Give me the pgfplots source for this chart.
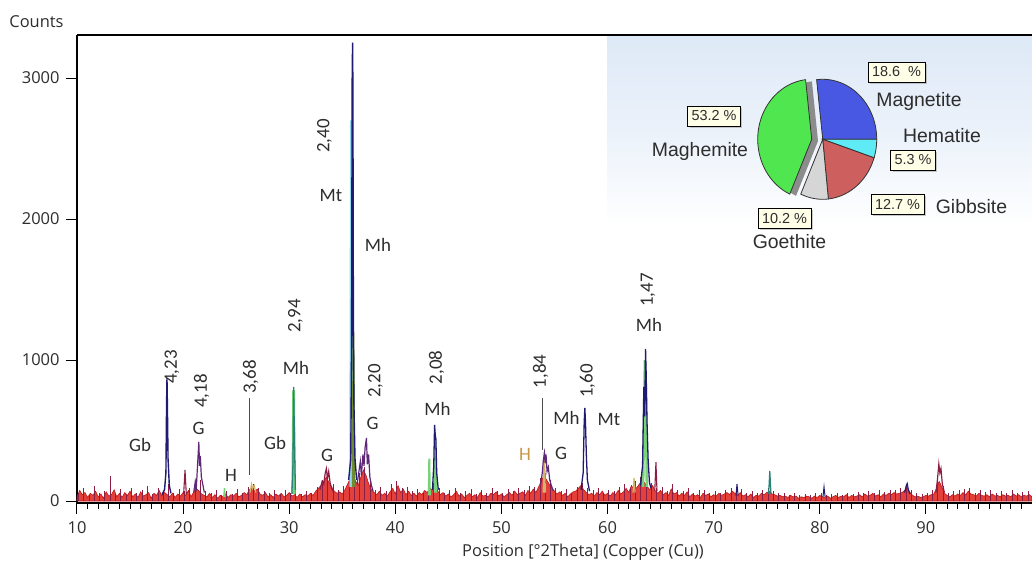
\documentclass[border=0pt]{standalone}
\usepackage{fontspec}
\setmainfont{Open Sans}
\newfontfamily\annot{Carlito}
\newfontfamily\pief{Liberation Sans}
\usepackage{pgfplots}
\pgfplotsset{compat=1.18}
\usetikzlibrary{shadows}
\definecolor{navy}{RGB}{32,26,112}
\definecolor{noisered}{RGB}{222,30,26}
\definecolor{maroon}{RGB}{140,30,70}
\definecolor{purp}{RGB}{95,40,120}
\definecolor{tealc}{RGB}{40,130,120}
\definecolor{lgreen}{RGB}{120,210,120}
\definecolor{lblue}{RGB}{150,215,240}
\definecolor{olive}{RGB}{110,140,50}
\definecolor{tanc}{RGB}{210,180,110}
\definecolor{txt}{RGB}{45,45,45}
\definecolor{pblue}{RGB}{72,88,226}
\definecolor{pcyan}{RGB}{95,235,245}
\definecolor{pred}{RGB}{205,95,95}
\definecolor{pgray}{RGB}{214,214,214}
\definecolor{pgreen}{RGB}{80,230,80}
\definecolor{boxfill}{RGB}{255,255,232}
\definecolor{bgblue}{RGB}{222,233,247}
\definecolor{orangeh}{RGB}{200,150,70}
\newcommand\pp[2]{({(#1-77)*1bp},{(503-#2)*1bp})}
\begin{document}
\begin{tikzpicture}
\useasboundingbox (-77bp,-61bp) rectangle (955bp,503bp);
% ---------- pie inset (pixel coordinates) ----------
\begin{axis}[at={(0,0)}, anchor=south west, scale only axis, width=955bp, height=468bp,
  xmin=77, xmax=1032, ymin=35, ymax=503, y dir=reverse, hide axis, clip=false]
\fill[top color=bgblue, bottom color=white, middle color=bgblue!60!white] (axis cs:607,37) rectangle (axis cs:1032,228);
% shadow behind green/gray
\addplot[fill=black!45, draw=none, domain=96.5:246, samples=40, variable=\t]
  ({818+54*cos(\t)}, {141-60*sin(\t)}) -- (axis cs:818,141) -- cycle;
% Magnetite 18.6 %
\addplot[fill=pblue, draw=black!80, line width=0.8bp, domain=0:96.5, samples=40, variable=\t]
  ({822.7+54*cos(\t)}, {139.3-60*sin(\t)}) -- (axis cs:822.7,139.3) -- cycle;
% Hematite 5.3 %
\addplot[fill=pcyan, draw=black!80, line width=0.8bp, domain=-18:0, samples=10, variable=\t]
  ({822.7+54*cos(\t)}, {139.3-60*sin(\t)}) -- (axis cs:822.7,139.3) -- cycle;
% Gibbsite 12.7 %
\addplot[fill=pred, draw=black!80, line width=0.8bp, domain=-84:-18, samples=30, variable=\t]
  ({822.7+54*cos(\t)}, {139.3-60*sin(\t)}) -- (axis cs:822.7,139.3) -- cycle;
% Goethite 10.2 %
\addplot[fill=pgray, draw=black!80, line width=0.8bp, domain=-114:-84, samples=15, variable=\t]
  ({822.7+54*cos(\t)}, {139.3-60*sin(\t)}) -- (axis cs:822.7,139.3) -- cycle;
% Maghemite 53.2 % (exploded)
\addplot[fill=pgreen, draw=black!80, line width=0.8bp, domain=96.5:246, samples=50, variable=\t]
  ({811.7+54*cos(\t)}, {139.3-60*sin(\t)}) -- (axis cs:811.7,139.3) -- cycle;
\end{axis}
% ---------- main diffractogram ----------
\begin{axis}[at={(0,0)}, anchor=south west, scale only axis, width=955bp, height=468bp,
  xmin=10, xmax=100, ymin=-14, ymax=3305,
  axis x line*=bottom, axis y line*=left,
  axis line style={line width=1.5bp, black, -},
  xtick={10,20,...,90}, minor xtick={11,...,99},
  ytick={0,1000,2000,3000},
  tick align=outside,
  major tick length=11bp, minor tick length=6bp,
  every tick/.style={black, line width=1bp},
  tick label style={font=\fontsize{16.5}{18}\selectfont, text=txt},
  xticklabel style={yshift=-4bp},
  yticklabel style={xshift=-3bp},
  /pgf/number format/assume math mode=true,
  /pgf/number format/1000 sep={},
  clip=true]
% noise band
\addplot[draw=noisered!85!black, line width=0.6bp, fill=noisered, fill opacity=0.85] coordinates {
(10,30)(10.25,75)(10.5,45)(10.75,60)(11,25)(11.25,55)(11.5,40)(11.75,70)(12,30)(12.25,50)(12.5,20)(12.75,65)(13,35)(13.25,45)(13.5,80)(13.75,30)(14,55)(14.25,25)(14.5,60)(14.75,40)
(15,70)(15.25,30)(15.5,50)(15.75,25)(16,65)(16.25,35)(16.5,45)(16.75,60)(17,20)(17.25,55)(17.5,40)(17.75,75)(18,35)(18.25,60)(18.5,45)(18.75,30)(19,55)(19.25,25)(19.5,50)(19.75,35)
(20,60)(20.25,40)(20.5,75)(20.75,30)(21,65)(21.25,90)(21.5,70)(21.75,50)(22,40)(22.25,30)(22.5,55)(22.75,25)(23,45)(23.25,20)(23.5,40)(23.75,30)(24,50)(24.25,25)(24.5,45)(24.75,35)
(25,55)(25.25,30)(25.5,40)(25.75,60)(26,45)(26.25,80)(26.5,95)(26.75,70)(27,85)(27.25,50)(27.5,40)(27.75,60)(28,30)(28.25,45)(28.5,25)(28.75,50)(29,35)(29.25,55)(29.5,30)(29.75,40)
(30,60)(30.25,35)(30.5,45)(30.75,25)(31,50)(31.25,30)(31.5,45)(31.75,35)(32,55)(32.25,40)(32.5,70)(32.75,90)(33,110)(33.25,140)(33.5,170)(33.75,130)(34,100)(34.25,70)(34.5,55)(34.75,65)
(35,50)(35.25,80)(35.5,120)(35.75,160)(36,200)(36.25,140)(36.5,110)(36.75,170)(37,220)(37.25,180)(37.5,120)(37.75,80)(38,60)(38.25,45)(38.5,70)(38.75,40)(39,55)(39.25,35)(39.5,65)(39.75,90)
(40,50)(40.25,110)(40.5,60)(40.75,85)(41,45)(41.25,70)(41.5,40)(41.75,55)(42,35)(42.25,60)(42.5,45)(42.75,75)(43,60)(43.25,90)(43.5,80)(43.75,120)(44,70)(44.25,45)(44.5,60)(44.75,35)
(45,50)(45.25,30)(45.5,45)(45.75,70)(46,35)(46.25,50)(46.5,25)(46.75,40)(47,55)(47.25,30)(47.5,45)(47.75,25)(48,60)(48.25,35)(48.5,40)(48.75,30)(49,55)(49.25,45)(49.5,65)(49.75,35)
(50,50)(50.25,30)(50.5,45)(50.75,60)(51,40)(51.25,70)(51.5,45)(51.75,55)(52,65)(52.25,40)(52.5,75)(52.75,55)(53,85)(53.25,60)(53.5,100)(53.75,140)(54,180)(54.25,150)(54.5,120)(54.75,90)
(55,70)(55.25,50)(55.5,65)(55.75,40)(56,55)(56.25,30)(56.5,50)(56.75,65)(57,70)(57.25,90)(57.5,110)(57.75,80)(58,60)(58.25,45)(58.5,55)(58.75,35)(59,60)(59.25,45)(59.5,70)(59.75,40)
(60,55)(60.25,35)(60.5,60)(60.75,45)(61,75)(61.25,50)(61.5,65)(61.75,90)(62,60)(62.25,110)(62.5,80)(62.75,95)(63,120)(63.25,150)(63.5,130)(63.75,100)(64,80)(64.25,110)(64.5,70)(64.75,55)
(65,75)(65.25,45)(65.5,60)(65.75,40)(66,85)(66.25,50)(66.5,60)(66.75,35)(67,55)(67.25,40)(67.5,65)(67.75,30)(68,50)(68.25,35)(68.5,45)(68.75,25)(69,55)(69.25,40)(69.5,50)(69.75,30)
(70,45)(70.25,35)(70.5,55)(70.75,40)(71,50)(71.25,60)(71.5,45)(71.75,70)(72,55)(72.25,40)(72.5,60)(72.75,35)(73,45)(73.25,30)(73.5,50)(73.75,25)(74,40)(74.25,35)(74.5,55)(74.75,45)
(75,60)(75.25,70)(75.5,50)(75.75,45)(76,35)(76.25,40)(76.5,30)(76.75,35)(77,25)(77.25,40)(77.5,30)(77.75,35)(78,20)(78.25,30)(78.5,25)(78.75,35)(79,30)(79.25,20)(79.5,35)(79.75,25)
(80,40)(80.25,30)(80.5,25)(80.75,35)(81,20)(81.25,30)(81.5,40)(81.75,25)(82,35)(82.25,30)(82.5,45)(82.75,25)(83,40)(83.25,30)(83.5,35)(83.75,45)(84,30)(84.25,50)(84.5,35)(84.75,40)
(85,55)(85.25,35)(85.5,45)(85.75,30)(86,50)(86.25,40)(86.5,55)(86.75,45)(87,60)(87.25,50)(87.5,55)(87.75,60)(88,75)(88.25,95)(88.5,60)(88.75,40)(89,30)(89.25,35)(89.5,25)(89.75,30)
(90,40)(90.25,35)(90.5,45)(90.75,50)(91,90)(91.25,140)(91.5,100)(91.75,55)(92,40)(92.25,30)(92.5,45)(92.75,35)(93,50)(93.25,40)(93.5,60)(93.75,45)(94,70)(94.25,50)(94.5,45)(94.75,35)
(95,55)(95.25,40)(95.5,35)(95.75,45)(96,30)(96.25,50)(96.5,35)(96.75,40)(97,30)(97.25,45)(97.5,35)(97.75,40)(98,30)(98.25,50)(98.5,35)(98.75,45)(99,30)(99.25,40)(99.5,35)(99.75,45)(100,30)
} \closedcycle;
% noise spikes
\addplot[ycomb, draw=maroon, line width=0.8bp] coordinates {
(10.125,60)(10.625,90)(11.125,40)(11.625,110)(12.125,55)(12.625,70)(13.125,180)(13.625,50)(14.125,85)(14.625,45)
(15.125,95)(15.625,60)(16.125,75)(16.625,110)(17.125,50)(17.625,90)(18.125,70)(18.625,120)(19.125,60)(19.625,85)
(20.125,70)(20.625,95)(21.125,120)(21.625,150)(22.125,70)(22.625,55)(23.125,80)(23.625,45)(24.125,70)(24.625,50)
(25.125,85)(25.625,60)(26.125,100)(26.625,120)(27.125,90)(27.625,70)(28.125,55)(28.625,80)(29.125,50)(29.625,75)
(30.125,60)(30.625,85)(31.125,50)(31.625,70)(32.125,60)(32.625,100)(33.125,150)(33.625,190)(34.125,120)(34.625,80)
(35.125,110)(35.625,150)(36.125,250)(36.625,200)(37.125,240)(37.625,150)(38.125,80)(38.625,100)(39.125,70)(39.625,120)
(40.125,140)(40.625,90)(41.125,100)(41.625,70)(42.125,85)(42.625,60)(43.125,100)(43.625,130)(44.125,95)(44.625,60)
(45.125,75)(45.625,95)(46.125,55)(46.625,70)(47.125,85)(47.625,50)(48.125,80)(48.625,60)(49.125,90)(49.625,70)
(50.125,60)(50.625,85)(51.125,70)(51.625,95)(52.125,80)(52.625,110)(53.125,100)(53.625,160)(54.125,200)(54.625,150)
(55.125,90)(55.625,70)(56.125,85)(56.625,60)(57.125,100)(57.625,130)(58.125,90)(58.625,75)(59.125,95)(59.625,60)
(60.125,80)(60.625,70)(61.125,100)(61.625,120)(62.125,90)(62.625,140)(63.125,170)(63.625,160)(64.125,130)(64.625,90)
(65.125,100)(65.625,70)(66.125,120)(66.625,80)(67.125,70)(67.625,90)(68.125,60)(68.625,75)(69.125,80)(69.625,55)
(70.125,70)(70.625,60)(71.125,80)(71.625,95)(72.125,70)(72.625,85)(73.125,55)(73.625,70)(74.125,60)(74.625,80)
(75.125,90)(75.625,70)(76.125,55)(76.625,60)(77.125,45)(77.625,55)(78.125,40)(78.625,50)(79.125,45)(79.625,55)
(80.125,60)(80.625,40)(81.125,50)(81.625,55)(82.125,45)(82.625,60)(83.125,50)(83.625,65)(84.125,55)(84.625,70)
(85.125,60)(85.625,75)(86.125,65)(86.625,80)(87.125,75)(87.625,90)(88.125,110)(88.625,80)(89.125,55)(89.625,50)
(90.125,60)(90.625,80)(91.125,170)(91.625,110)(92.125,60)(92.625,70)(93.125,75)(93.625,85)(94.125,95)(94.625,60)
(95.125,80)(95.625,65)(96.125,75)(96.625,55)(97.125,70)(97.625,60)(98.125,75)(98.625,55)(99.125,65)(99.625,70)
};
% leader lines
\addplot[draw=black!70, line width=0.9bp] coordinates {(26.28,184)(26.28,730)};
\addplot[draw=black!70, line width=0.9bp] coordinates {(53.9,362)(53.9,730)};
% peaks: light overlays
\addplot[draw=lgreen, line width=2bp] coordinates {(30.3,50)(30.38,780)(30.45,780)(30.52,50)};
\addplot[draw=lblue, line width=3bp] coordinates {(35.8,100)(35.87,2700)(35.93,100)};
\addplot[draw=olive, line width=2bp] coordinates {(36.0,100)(36.05,1200)(36.1,100)};
\addplot[draw=lgreen, line width=2bp] coordinates {(43.15,40)(43.2,300)(43.25,40)};
\addplot[draw=lgreen, line width=2bp] coordinates {(43.72,60)(43.78,420)(43.84,60)};
\addplot[draw=lgreen, line width=2.5bp] coordinates {(63.35,100)(63.45,600)(63.52,1000)(63.6,800)(63.7,100)};
\addplot[draw=lgreen, line width=1.5bp] coordinates {(23.85,30)(23.9,92)(23.95,30)};
\addplot[draw=tanc, line width=1.2bp] coordinates {(26.3,60)(26.45,120)(26.55,90)(26.7,110)(26.85,60)};
\addplot[draw=tanc, line width=1.5bp] coordinates {(53.95,60)(54.05,350)(54.12,60)};
\addplot[draw=tanc, line width=1.2bp] coordinates {(62.4,60)(62.5,163)(62.6,60)};
% peaks: dark traces
\addplot[draw=navy, line width=1.4bp] coordinates {(18,45)(18.25,80)(18.38,200)(18.44,680)(18.48,872)(18.52,680)(18.58,300)(18.7,110)(18.85,55)};
\addplot[draw=maroon, line width=1.1bp] coordinates {(20.05,50)(20.18,220)(20.3,50)};
\addplot[draw=purp, line width=1.2bp] coordinates {(21,60)(21.15,140)(21.25,100)(21.38,280)(21.48,420)(21.55,250)(21.62,320)(21.72,170)(21.85,120)(22,60)};
\addplot[draw=tealc, line width=1.3bp] coordinates {(30.25,50)(30.35,250)(30.42,810)(30.48,500)(30.58,80)};
\addplot[draw=maroon, line width=1.2bp] coordinates {(32.9,80)(33.1,140)(33.25,120)(33.4,200)(33.5,230)(33.6,160)(33.72,210)(33.85,130)(34,90)(34.2,60)};
\addplot[draw=navy, line width=1.4bp] coordinates {(35.6,150)(35.8,300)(35.88,1150)(35.93,2965)(35.97,3250)(36.0,2965)(36.05,1200)(36.1,680)(36.2,300)(36.35,150)};
\addplot[draw=purp, line width=1.2bp] coordinates {(36.4,120)(36.55,200)(36.7,280)(36.8,180)(36.95,330)(37.05,250)(37.15,380)(37.28,447)(37.36,260)(37.48,330)(37.6,170)(37.75,110)(37.9,70)};
\addplot[draw=navy, line width=1.3bp] coordinates {(43.5,80)(43.62,250)(43.7,540)(43.76,470)(43.82,440)(43.9,200)(44.05,80)};
\addplot[draw=purp, line width=1.2bp] coordinates {(53.7,120)(53.85,200)(53.95,290)(54.05,340)(54.12,270)(54.2,330)(54.3,210)(54.42,240)(54.55,150)(54.7,110)(54.9,70)};
\addplot[draw=navy, line width=1.3bp] coordinates {(57.5,80)(57.7,200)(57.8,560)(57.86,660)(57.92,560)(58,330)(58.1,150)(58.3,70)};
\addplot[draw=navy, line width=1.3bp] coordinates {(63.1,110)(63.3,250)(63.42,810)(63.5,600)(63.58,1078)(63.64,900)(63.72,560)(63.82,300)(63.95,130)(64.1,90)};
\addplot[draw=maroon, line width=1.1bp] coordinates {(64.45,70)(64.56,275)(64.66,70)};
\addplot[draw=navy, line width=1bp] coordinates {(72.1,40)(72.2,120)(72.3,40)};
\addplot[draw=tealc, line width=1.2bp] coordinates {(75.18,50)(75.29,213)(75.4,50)};
\addplot[draw=navy, line width=1bp] coordinates {(80.3,30)(80.4,100)(80.5,30)};
\addplot[draw=navy, line width=1.1bp] coordinates {(88,60)(88.15,110)(88.24,125)(88.35,80)(88.5,50)};
\addplot[draw=maroon, line width=1.2bp] coordinates {(90.95,60)(91.1,160)(91.22,262)(91.32,200)(91.42,230)(91.55,120)(91.75,60)};
\end{axis}
\draw[line width=1.3bp] (0,468bp) -- (955bp,468bp);
% ---------- axis titles ----------
\node[text=txt, font=\fontsize{16.5}{18}\selectfont] at \pp{36.5}{22} {Counts};
\node[text=txt, font=\fontsize{16.5}{18}\selectfont] at \pp{583}{552} {Position [°2Theta] (Copper (Cu))};
% ---------- peak annotations ----------
\begin{scope}[every node/.style={text=txt, font=\annot\fontsize{19}{22}\selectfont, inner sep=0pt}]
\node[rotate=90] at \pp{172}{367} {4,23};
\node at \pp{140}{445} {Gb};
\node at \pp{198.5}{428} {G};
\node[rotate=90] at \pp{201.5}{391} {4,18};
\node at \pp{231}{475} {H};
\node[rotate=90] at \pp{250.5}{377} {3,68};
\node at \pp{275}{443} {Gb};
\node at \pp{296}{368} {Mh};
\node[rotate=90] at \pp{295.5}{316} {2,94};
\node[rotate=90] at \pp{324.5}{136} {2,40};
\node at \pp{331}{195.5} {Mt};
\node at \pp{378}{244.5} {Mh};
\node at \pp{327}{455} {G};
\node[rotate=90] at \pp{375.5}{381} {2,20};
\node at \pp{372.5}{423.5} {G};
\node[rotate=90] at \pp{436.5}{367.5} {2,08};
\node at \pp{437.5}{408.5} {Mh};
\node[rotate=90] at \pp{540.5}{371.5} {1,84};
\node[text=orangeh] at \pp{525}{454.5} {H};
\node at \pp{561}{453.5} {G};
\node at \pp{566.5}{417.5} {Mh};
\node[rotate=90] at \pp{587.5}{381} {1,60};
\node at \pp{609}{419.5} {Mt};
\node[rotate=90] at \pp{648}{290} {1,47};
\node at \pp{649}{324.5} {Mh};
\end{scope}
% ---------- pie labels ----------
\begin{scope}[every node/.style={text=txt, font=\pief\fontsize{19.5}{22}\selectfont, inner sep=0pt}]
\node at \pp{919}{101} {Magnetite};
\node at \pp{942}{136} {Hematite};
\node at \pp{971.5}{207} {Gibbsite};
\node at \pp{700}{151} {Maghemite};
\node at \pp{789.5}{242} {Goethite};
\end{scope}
\begin{scope}[every node/.style={text=txt, font=\pief\fontsize{14.5}{16}\selectfont, draw=black, line width=0.7bp, fill=boxfill, inner xsep=4bp, inner ysep=2bp, minimum height=20bp, drop shadow={shadow xshift=2bp, shadow yshift=-2bp, fill=black!40}}]
\node at \pp{896.5}{72} {18.6\ \ \%};
\node at \pp{913}{160} {5.3 \%};
\node at \pp{897.5}{204.5} {12.7 \%};
\node at \pp{714}{116} {53.2 \%};
\node at \pp{784.5}{218.5} {10.2 \%};
\end{scope}
\end{tikzpicture}
\end{document}
